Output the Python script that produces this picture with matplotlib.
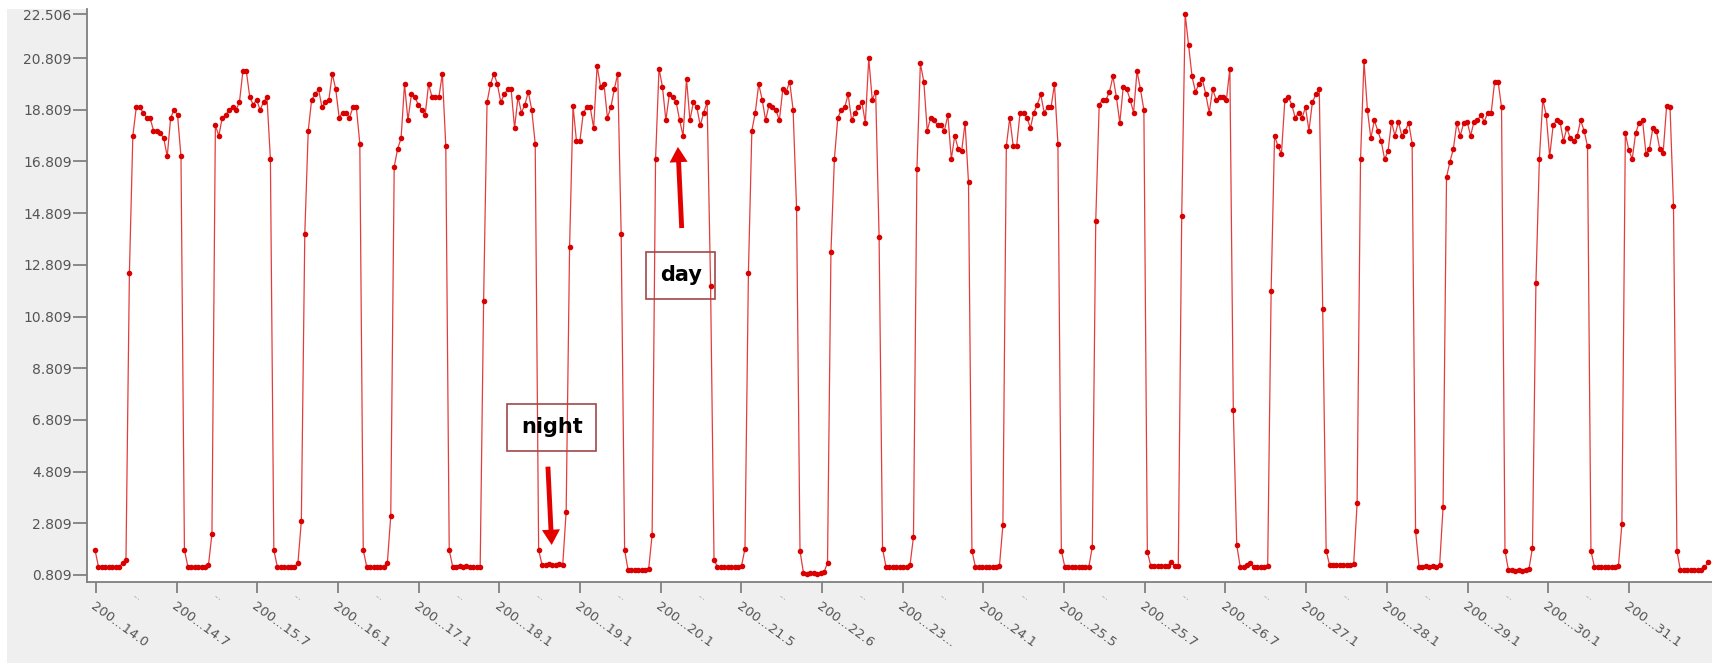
import matplotlib.pyplot as plt
import numpy as np
from matplotlib.patches import Rectangle

# readings in the order they were logged: night block, then day block
night_00 = [1.78, 1.13, 1.13, 1.13, 1.13, 1.13, 1.13, 1.13, 1.26, 1.39]
day_01 = [12.5, 17.8, 18.9, 18.9, 18.7, 18.5, 18.5, 18.0, 18.0, 17.9, 17.7, 17.0, 18.5, 18.8, 18.6, 17.0]
night_01 = [1.78, 1.13, 1.13, 1.13, 1.13, 1.13, 1.13, 1.2, 2.4]
day_02 = [18.2, 17.8, 18.5, 18.6, 18.8, 18.9, 18.8, 19.1, 20.3, 20.3, 19.3, 19.0, 19.2, 18.8, 19.1, 19.3, 16.9]
night_02 = [1.78, 1.13, 1.13, 1.13, 1.13, 1.13, 1.13, 1.26, 2.9]
day_03 = [14.0, 18.0, 19.2, 19.4, 19.6, 18.9, 19.1, 19.2, 20.2, 19.6, 18.5, 18.7, 18.7, 18.5, 18.9, 18.9, 17.5]
night_03 = [1.78, 1.13, 1.13, 1.13, 1.13, 1.13, 1.13, 1.26, 3.1]
day_04 = [16.6, 17.3, 17.7, 19.8, 18.4, 19.4, 19.3, 19.0, 18.8, 18.6, 19.8, 19.3, 19.3, 19.3, 20.2, 17.4]
night_04 = [1.78, 1.13, 1.13, 1.16, 1.13, 1.16, 1.13, 1.13, 1.13, 1.13]
day_05 = [11.4, 19.1, 19.8, 20.2, 19.8, 19.1, 19.4, 19.6, 19.6, 18.1, 19.3, 18.7, 19.0, 19.5, 18.8, 17.5]
night_05 = [1.78, 1.19, 1.19, 1.25, 1.19, 1.19, 1.25, 1.19, 3.26]
day_06 = [13.5, 18.95, 17.6, 17.6, 18.7, 18.9, 18.9, 18.1, 20.5, 19.7, 19.8, 18.5, 18.9, 19.6, 20.2, 14.0]
night_06 = [1.78, 1.0, 1.0, 1.0, 1.0, 1.0, 1.0, 1.05, 2.36]
day_07 = [16.9, 20.4, 19.7, 18.4, 19.4, 19.3, 19.1, 18.4, 17.8, 20.0, 18.4, 19.1, 18.9, 18.2, 18.7, 19.1, 12.0]
night_07 = [1.39, 1.13, 1.1, 1.13, 1.13, 1.1, 1.13, 1.13, 1.16, 1.83]
day_08 = [12.5, 18.0, 18.7, 19.8, 19.2, 18.4, 19.0, 18.9, 18.8, 18.4, 19.6, 19.5, 19.9, 18.8, 15.0]
night_08 = [1.75, 0.89, 0.85, 0.89, 0.89, 0.85, 0.89, 0.92, 1.28]
day_09 = [13.3, 16.9, 18.5, 18.8, 18.9, 19.4, 18.4, 18.7, 18.9, 19.1, 18.3, 20.8, 19.2, 19.5, 13.9]
night_09 = [1.83, 1.13, 1.13, 1.13, 1.13, 1.13, 1.13, 1.13, 1.2, 2.28]
day_10 = [16.5, 20.6, 19.9, 18.0, 18.5, 18.4, 18.2, 18.2, 18.0, 18.6, 16.9, 17.8, 17.3, 17.2, 18.3, 16.0]
night_10 = [1.75, 1.13, 1.13, 1.13, 1.13, 1.13, 1.13, 1.13, 1.16, 2.74]
day_11 = [17.4, 18.5, 17.4, 17.4, 18.7, 18.7, 18.5, 18.1, 18.7, 19.0, 19.4, 18.7, 18.9, 18.9, 19.8, 17.5]
night_11 = [1.75, 1.13, 1.13, 1.1, 1.13, 1.13, 1.13, 1.13, 1.13, 1.9]
day_12 = [14.5, 19.0, 19.2, 19.2, 19.5, 20.1, 19.3, 18.3, 19.7, 19.6, 19.2, 18.7, 20.3, 19.6, 18.8]
night_12 = [1.71, 1.16, 1.16, 1.16, 1.16, 1.16, 1.16, 1.3, 1.16, 1.16]
day_13 = [14.7, 22.506, 21.3, 20.1, 19.5, 19.8, 20.0, 19.4, 18.7, 19.6, 19.2, 19.3, 19.3, 19.2, 20.4, 7.2]
night_13 = [1.97, 1.13, 1.13, 1.2, 1.26, 1.13, 1.13, 1.13, 1.13, 1.16]
day_14 = [11.8, 17.8, 17.4, 17.1, 19.2, 19.3, 19.0, 18.5, 18.7, 18.5, 18.9, 18.0, 19.1, 19.4, 19.6, 11.1]
night_14 = [1.75, 1.19, 1.19, 1.19, 1.19, 1.19, 1.19, 1.19, 1.22, 3.58]
day_15 = [16.9, 20.7, 18.8, 17.7, 18.4, 18.0, 17.6, 16.9, 17.2, 18.35, 17.8, 18.35, 17.8, 18.0, 18.3, 17.5]
night_15 = [2.52, 1.13, 1.13, 1.16, 1.13, 1.16, 1.13, 1.2, 3.43]
day_16 = [16.2, 16.8, 17.3, 18.3, 17.8, 18.3, 18.35, 17.8, 18.35, 18.4, 18.6, 18.35, 18.7, 18.7, 19.9, 19.9, 18.9]
night_16 = [1.75, 1.0, 1.0, 0.95, 1.0, 0.95, 1.0, 1.06, 1.87]
day_17 = [12.1, 16.9, 19.2, 18.6, 17.0, 18.2, 18.4, 18.35, 17.6, 18.1, 17.7, 17.6, 17.8, 18.4, 18.0, 17.4]
night_17 = [1.75, 1.13, 1.13, 1.13, 1.13, 1.13, 1.13, 1.13, 1.16, 2.78]
day_18 = [17.9, 17.25, 16.9, 17.9, 18.3, 18.4, 17.1, 17.3, 18.1, 18.0, 17.3, 17.15, 18.95, 18.9, 15.1]
night_18 = [1.75, 1.0, 1.0, 1.0, 1.0, 1.0, 1.0, 1.0, 1.1, 1.3]

blocks = [night_00, day_01, night_01, day_02, night_02, day_03, night_03, day_04,
          night_04, day_05, night_05, day_06, night_06, day_07, night_07, day_08,
          night_08, day_09, night_09, day_10, night_10, day_11, night_11, day_12,
          night_12, day_13, night_13, day_14, night_14, day_15, night_15, day_16,
          night_16, day_17, night_17, day_18, night_18]

y_ticks = [0.809, 2.809, 4.809, 6.809, 8.809, 10.809, 12.809, 14.809, 16.809,
           18.809, 20.809, 22.506]
x_labels = ["200...14.0", "200...14.7", "200...15.7", "200...16.1", "200...17.1",
            "200...18.1", "200...19.1", "200...20.1", "200...21.5", "200...22.6",
            "200...23...", "200...24.1", "200...25.5", "200...25.7", "200...26.7",
            "200...27.1", "200...28.1", "200...29.1", "200...30.1", "200...31.1"]

series = np.concatenate(blocks)
x = np.arange(len(series))

W, H = 1712, 666
fig = plt.figure(figsize=(W / 100, H / 100), dpi=100, facecolor="white")
fig.patches.append(Rectangle((7 / W, 3 / H), 1 - 7 / W, 1 - 12 / H,
                             transform=fig.transFigure, facecolor="#efefef",
                             edgecolor="none", zorder=-10))
ax = fig.add_axes([87 / W, 84 / H, 1 - 87 / W, 573 / H])
ax.set_zorder(1)
ax.set_facecolor("white")

ax.plot(x, series, color="#e43c3c", lw=0.9, marker="o", ms=4.0,
        mfc="#d80000", mec="#d80000", mew=0, zorder=3)

ax.set_xlim(-2.33, 470.2)
ax.set_ylim(0.538, 22.705)

ax.set_yticks(y_ticks)
ax.set_yticklabels([f"{v:.3f}" for v in y_ticks], fontsize=10, color="#555555")

step = 23.46
major = 0.29 + step * np.arange(len(x_labels))
ax.set_xticks(major)
ax.set_xticklabels(x_labels, rotation=-36, ha="left", va="top",
                   rotation_mode="anchor", fontsize=9.5, color="#555555")
ax.set_xticks(major[:-1] + step / 2, minor=True)
ax.set_xticklabels(["..."] * (len(x_labels) - 1), minor=True, rotation=-36,
                   ha="left", va="top", rotation_mode="anchor", fontsize=6,
                   color="#666666")

ax.tick_params(axis="y", length=10, width=1.2, color="#777777", pad=1)
ax.tick_params(axis="x", which="major", length=8, width=1.2, color="#777777", pad=5)
ax.tick_params(axis="x", which="minor", length=0, pad=6)

for side in ("top", "right"):
    ax.spines[side].set_visible(False)
for side in ("left", "bottom"):
    ax.spines[side].set_color("#7f7f7f")
    ax.spines[side].set_linewidth(1.3)

# callouts
box = dict(boxstyle="square,pad=0.65", facecolor="none", edgecolor="#a04848", lw=1.2)
ax.text(132.8, 6.53, "night", fontsize=15, fontweight="bold", ha="center",
        va="center", bbox=box, zorder=4)
ax.text(170.3, 12.41, "day", fontsize=15, fontweight="bold", ha="center",
        va="center", bbox=box, zorder=4)
arrow = dict(arrowstyle="simple,head_width=1.3,head_length=1.1,tail_width=0.35",
             color="#e50000", lw=0, shrinkA=0, shrinkB=0)
ax.annotate("", xy=(132.8, 1.97), xytext=(131.7, 5.0), arrowprops=arrow, zorder=5)
ax.annotate("", xy=(169.5, 17.37), xytext=(170.6, 14.23), arrowprops=arrow, zorder=5)

fig.savefig("out.png", dpi=100, facecolor=fig.get_facecolor())
